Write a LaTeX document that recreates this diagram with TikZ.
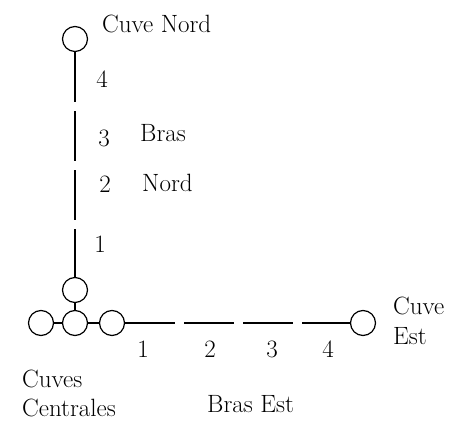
\documentclass[tikz,border=0pt]{standalone}
\usetikzlibrary{calc,positioning}

\tikzset{cuve/.style={circle,draw,line width=1.2pt,minimum size=25pt,inner sep=0pt},
	bras/.style={line width=1.5pt,dash pattern=on 50pt off 9pt},
	lien/.style={line width=1.2pt},
	lab/.style={inner sep=0pt,font=\fontsize{25}{30}\selectfont}}

\begin{document}
\begin{tikzpicture}[x=1pt,y=-1pt]
\useasboundingbox (0,0) rectangle (464,427);

% les cuves
\node[cuve] (cn) at (75,39) {};
\node[cuve] (cu) at (75,290) {};
\node[cuve] (cm) at (75,323) {};
\node[cuve] (cl) at (41,323) {};
\node[cuve] (cr) at (112,323) {};
\node[cuve] (ce) at (363,323) {};

% les bras
\draw[bras] (cn) -- (cu);
\draw[bras] (cr) -- (ce);
\draw[lien] (cl) -- (cm) (cm) -- (cr) (cu) -- (cm);

% bras nord
\node[lab,anchor=base west] (tcn) at (102,33) {Cuve Nord};
\node[lab,anchor=base] (n4) at (102,88) {4};
\node[lab,anchor=base] (n3) at (104,147) {3};
\node[lab,anchor=base] (n2) at (105,193) {2};
\node[lab,anchor=base] (n1) at (100,253) {1};
\node[lab,anchor=base west] (tbn) at (140,142) {Bras};
\node[lab,anchor=base west] (tnd) at (142,192) {Nord};

% bras est
\node[lab,anchor=base] (e1) at (143,358) {1};
\node[lab,anchor=base] (e2) at (210,358) {2};
\node[lab,anchor=base] (e3) at (272,358) {3};
\node[lab,anchor=base] (e4) at (328,358) {4};
\node[lab,anchor=base west] (tce) at (393,315) {Cuve};
\node[lab,anchor=base west] (tes) at (393,345) {Est};
\node[lab,anchor=base west] (tbe) at (207,413) {Bras Est};
\node[lab,anchor=base west] (tcv) at (22,388) {Cuves};
\node[lab,anchor=base west] (tcc) at (22,417) {Centrales};
\end{tikzpicture}
\end{document}
